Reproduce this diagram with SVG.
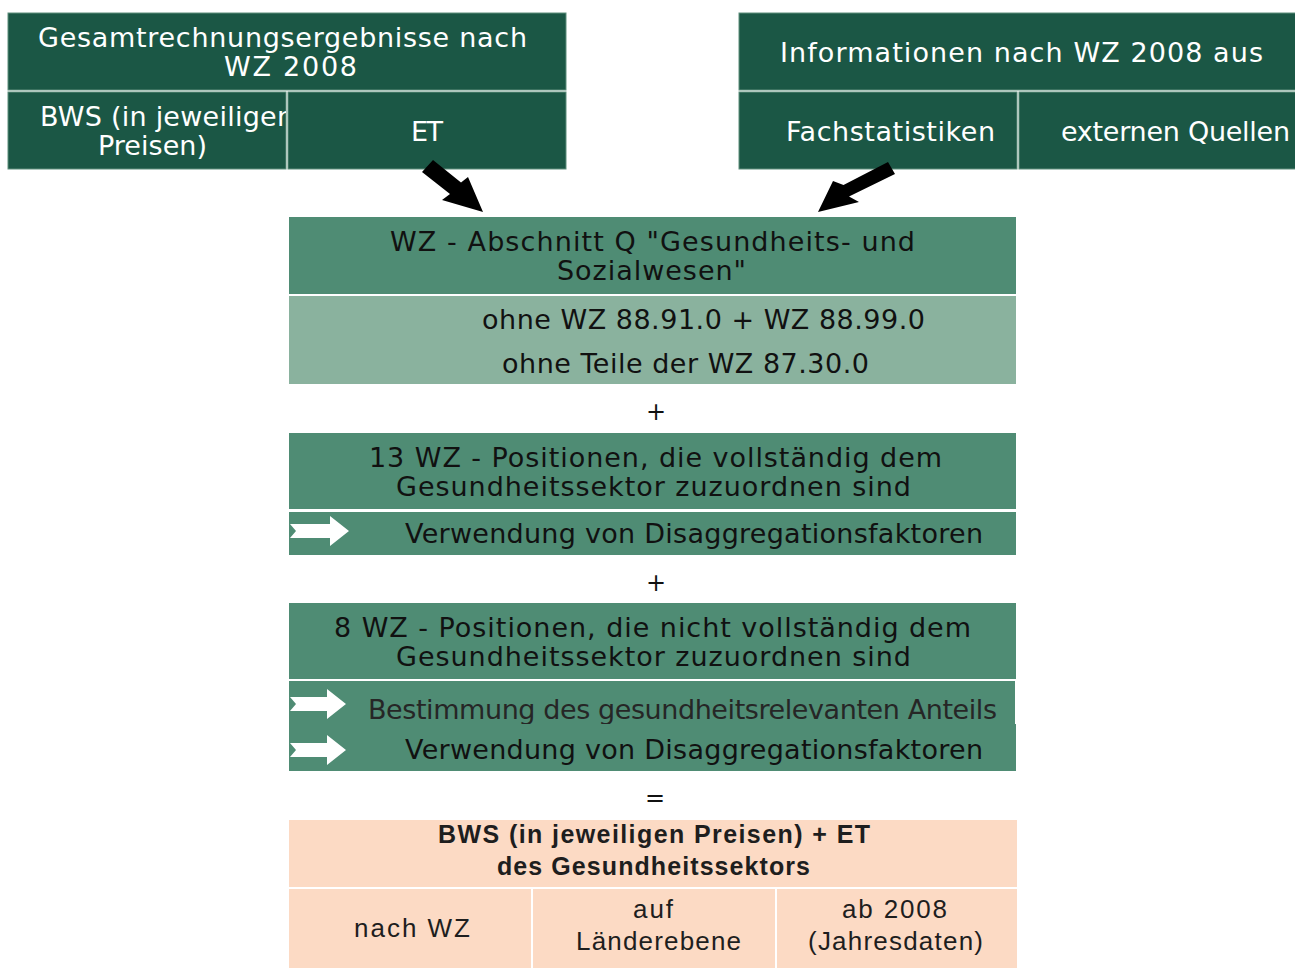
<svg xmlns="http://www.w3.org/2000/svg" width="1295" height="968" viewBox="0 0 1295 968">
<style>
.dark{fill:#1b5745;stroke:#5f8f7d;stroke-width:1}
.mid{fill:#4f8c74}
.light{fill:#8ab29e}
.peach{fill:#fcdac4}
.tw{font-family:"DejaVu Sans",Verdana,sans-serif;font-size:27px;fill:#ffffff;text-anchor:start}
.tb{font-family:"DejaVu Sans",Verdana,sans-serif;font-size:27px;fill:#111111;text-anchor:start}
.op{font-family:"DejaVu Sans",sans-serif;font-size:24px;fill:#111111;text-anchor:middle}
.pb{font-family:"Liberation Sans",Arial,sans-serif;font-size:25px;font-weight:bold;fill:#1e1e1e}
.pn{font-family:"Liberation Sans",Arial,sans-serif;font-size:26px;fill:#1e1e1e}
.blk{fill:#000000}
.wht{fill:#ffffff}
</style>
<defs>
<clipPath id="clipBWS"><rect x="8" y="92" width="278" height="77"/></clipPath>
</defs>

<g id="node-gesamt">
<rect class="dark" x="8" y="13" width="558" height="77"/>
<text class="tw" x="38" y="47" textLength="489" lengthAdjust="spacing">Gesamtrechnungsergebnisse nach</text>
<text class="tw" x="224" y="76" textLength="133" lengthAdjust="spacing">WZ 2008</text>
</g>
<g id="node-bws">
<rect class="dark" x="8" y="92" width="278" height="77"/>
<text class="tw" x="40" y="126" textLength="254" lengthAdjust="spacing" clip-path="url(#clipBWS)">BWS (in jeweiligen</text>
<text class="tw" x="98" y="155" textLength="109" lengthAdjust="spacing">Preisen)</text>
</g>
<g id="node-et">
<rect class="dark" x="288" y="92" width="278" height="77"/>
<text class="tw" x="411" y="141" textLength="32" lengthAdjust="spacing">ET</text>
</g>

<g id="node-info">
<rect class="dark" x="739" y="13" width="560" height="77"/>
<text class="tw" x="780" y="62" textLength="483" lengthAdjust="spacing">Informationen nach WZ 2008 aus</text>
</g>
<g id="node-fach">
<rect class="dark" x="739" y="92" width="278" height="77"/>
<text class="tw" x="786" y="141" textLength="209" lengthAdjust="spacing">Fachstatistiken</text>
</g>
<g id="node-extern">
<rect class="dark" x="1019" y="92" width="280" height="77"/>
<text class="tw" x="1061" y="141" textLength="229" lengthAdjust="spacing">externen Quellen</text>
</g>

<g id="connectors">
<polygon class="blk" points="433,160 461,182.5 468,177 483,212 442,200 450,194 422,172"/>
<polygon class="blk" points="888,162 843.5,185 833,181 818,212 859,202 849,196.5 895,174"/>
</g>

<g id="node-abschnitt">
<rect class="mid" x="289" y="217" width="727" height="77"/>
<text class="tb" x="390" y="251" textLength="525" lengthAdjust="spacing">WZ - Abschnitt Q "Gesundheits- und</text>
<text class="tb" x="557" y="280" textLength="189" lengthAdjust="spacing">Sozialwesen"</text>
</g>
<g id="node-ohne">
<rect class="light" x="289" y="296" width="727" height="88"/>
<text class="tb" x="482" y="329" textLength="443" lengthAdjust="spacing">ohne WZ 88.91.0 + WZ 88.99.0</text>
<text class="tb" x="502" y="373" textLength="367" lengthAdjust="spacing">ohne Teile der WZ 87.30.0</text>
</g>

<text class="op" x="656" y="420">+</text>

<g id="node-13wz">
<rect class="mid" x="289" y="433" width="727" height="76"/>
<text class="tb" x="369" y="467" textLength="573" lengthAdjust="spacing">13 WZ - Positionen, die vollständig dem</text>
<text class="tb" x="396" y="496" textLength="515" lengthAdjust="spacing">Gesundheitssektor zuzuordnen sind</text>
</g>
<g id="node-verw1">
<rect class="mid" x="289" y="512" width="727" height="43"/>
<polygon class="wht" points="290,524 330,524 330,516 349,531 330,546 330,538 290,538 296,531"/>
<text class="tb" x="405" y="543" textLength="578" lengthAdjust="spacing">Verwendung von Disaggregationsfaktoren</text>
</g>

<text class="op" x="656" y="591">+</text>

<g id="node-8wz">
<rect class="mid" x="289" y="603" width="727" height="76"/>
<text class="tb" x="334" y="637" textLength="637" lengthAdjust="spacing">8 WZ - Positionen, die nicht vollständig dem</text>
<text class="tb" x="396" y="666" textLength="515" lengthAdjust="spacing">Gesundheitssektor zuzuordnen sind</text>
</g>
<g id="node-bestimmung">
<rect class="mid" x="289" y="681" width="726" height="44"/>
<polygon class="wht" points="290,697 327,697 327,689 346,704 327,719 327,711 290,711 296,704"/>
<text class="tb" x="368" y="719" textLength="629" lengthAdjust="spacing" style="fill:#262626">Bestimmung des gesundheitsrelevanten Anteils</text>
</g>
<g id="node-verw2">
<rect class="mid" x="289" y="724" width="727" height="47"/>
<polygon class="wht" points="290,743 327,743 327,735 346,750 327,765 327,757 290,757 296,750"/>
<text class="tb" x="405" y="759" textLength="578" lengthAdjust="spacing">Verwendung von Disaggregationsfaktoren</text>
</g>

<text class="op" x="655" y="806">=</text>

<g id="node-result">
<rect class="peach" x="289" y="820" width="728" height="67"/>
<text class="pb" x="438" y="843" textLength="432" lengthAdjust="spacing">BWS (in jeweiligen Preisen) + ET</text>
<text class="pb" x="497" y="875" textLength="313" lengthAdjust="spacing">des Gesundheitssektors</text>
</g>
<g id="node-nachwz">
<rect class="peach" x="289" y="889" width="242" height="79"/>
<text class="pn" x="354" y="937" textLength="116" lengthAdjust="spacing">nach WZ</text>
</g>
<g id="node-laender">
<rect class="peach" x="533" y="889" width="242" height="79"/>
<text class="pn" x="633" y="918" textLength="40" lengthAdjust="spacing">auf</text>
<text class="pn" x="576" y="950" textLength="165" lengthAdjust="spacing">Länderebene</text>
</g>
<g id="node-jahr">
<rect class="peach" x="777" y="889" width="240" height="79"/>
<text class="pn" x="842" y="918" textLength="105" lengthAdjust="spacing">ab 2008</text>
<text class="pn" x="808" y="950" textLength="175" lengthAdjust="spacing">(Jahresdaten)</text>
</g>
</svg>
